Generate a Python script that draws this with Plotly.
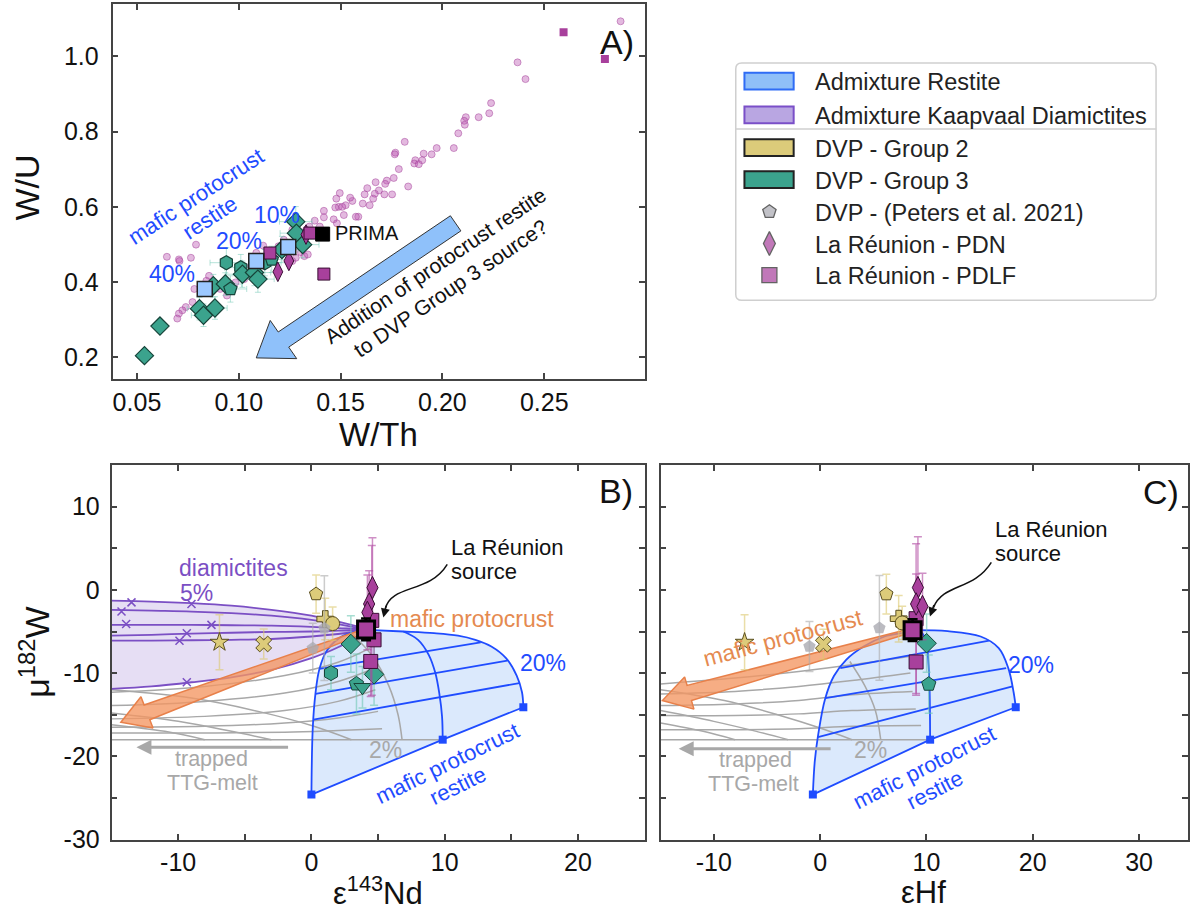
import numpy as np
import plotly.graph_objects as go

W, H = 1190, 919
FONT = "Liberation Sans, Arial, Helvetica, sans-serif"

# ======================= DATA =======================
# ---- Panel A : W/Th vs W/U ----
a_lit_x = [0.2875, 0.2369, 0.2408, 0.2239, 0.2230, 0.2178, 0.2115, 0.2107, 0.2110, 0.2078,
           0.2056, 0.1972, 0.1947, 0.1908, 0.1901, 0.1867, 0.1862, 0.1884, 0.1815, 0.1769,
           0.1766, 0.1786, 0.1832, 0.1761, 0.1727, 0.1719, 0.1753, 0.1715, 0.1688, 0.1668,
           0.1672, 0.1631, 0.1618, 0.1660, 0.1643, 0.1609, 0.1587, 0.1575, 0.1558, 0.1547,
           0.1525, 0.1496, 0.1479, 0.1491, 0.1508, 0.1516, 0.1474, 0.1418, 0.1418, 0.1466,
           0.1482, 0.1373, 0.1398, 0.1347, 0.1331, 0.1263, 0.1221, 0.1195, 0.1120, 0.1086,
           0.1111, 0.1204, 0.1322, 0.1305, 0.1339, 0.0790, 0.0765, 0.0706, 0.0709, 0.0647,
           0.0854, 0.0841, 0.0773, 0.0740, 0.0723, 0.0706, 0.0698, 0.0782, 0.0909, 0.0942,
           0.0984, 0.1027, 0.1060, 0.1128, 0.1263, 0.1280]
a_lit_y = [1.0935, 0.9843, 0.9397, 0.8759, 0.8488, 0.8384, 0.8384, 0.8287, 0.8183, 0.7955,
           0.7562, 0.7562, 0.7396, 0.7414, 0.7239, 0.7239, 0.7152, 0.7134, 0.7728, 0.7440,
           0.7396, 0.7003, 0.6540, 0.6767, 0.6697, 0.6610, 0.6330, 0.6330, 0.6435, 0.6348,
           0.6654, 0.6496, 0.6330, 0.6217, 0.6042, 0.6086, 0.5736, 0.5736, 0.6156, 0.6243,
           0.6042, 0.6365, 0.6217, 0.5998, 0.5998, 0.5780, 0.5981, 0.5893, 0.5719, 0.5666,
           0.5561, 0.5631, 0.5474, 0.5474, 0.5387, 0.5387, 0.5124, 0.4950, 0.4967, 0.4775,
           0.4600, 0.4775, 0.4688, 0.4792, 0.4731, 0.4993, 0.4644, 0.4600, 0.4557, 0.4670,
           0.4163, 0.4032, 0.3464, 0.3333, 0.3246, 0.3159, 0.3027, 0.3814, 0.3814, 0.3639,
           0.3989, 0.4076, 0.4426, 0.4600, 0.4557, 0.4644]

a_g3_x = [0.0537, 0.0613, 0.0807, 0.0827, 0.0883, 0.0939, 0.0875, 0.0934, 0.0959, 0.1010,
          0.1018, 0.1077, 0.1094, 0.1128, 0.1162, 0.1212, 0.1280, 0.1283, 0.1314]
a_g3_y = [0.2040, 0.2827, 0.3290, 0.3115, 0.3307, 0.4513, 0.3901, 0.3945, 0.3814, 0.4382,
          0.4207, 0.4251, 0.4076, 0.4513, 0.4600, 0.4862, 0.5605, 0.5299, 0.4993]
a_g3_sym = ["diamond", "diamond", "diamond", "diamond", "diamond", "hexagon", "diamond",
            "diamond", "pentagon", "hexagon", "diamond", "diamond", "diamond", "hexagon",
            "pentagon", "diamond", "diamond", "diamond", "diamond"]
a_g3_ex = [0.002, 0.002, 0.006, 0.006, 0.006, 0.008, 0.007, 0.008, 0.008, 0.008,
           0.008, 0.008, 0.008, 0.008, 0.008, 0.008, 0.008, 0.008, 0.008]
a_g3_ey = [0.005, 0.005, 0.03, 0.03, 0.03, 0.04, 0.03, 0.03, 0.035, 0.035,
           0.035, 0.035, 0.035, 0.035, 0.035, 0.035, 0.04, 0.035, 0.035]

a_pdn_x = [0.1246, 0.1192, 0.1330]
a_pdn_y = [0.4560, 0.4270, 0.5260]
a_pdlf_x = [0.1418, 0.1153, 0.1350]
a_pdlf_y = [0.4210, 0.4770, 0.5300]
a_pdlf_small_x = [0.2595, 0.2798]
a_pdlf_small_y = [1.0647, 0.9930]
a_restite_x = [0.0833, 0.1086, 0.1243]
a_restite_y = [0.3814, 0.4557, 0.4932]
a_prima_x = [0.1412]
a_prima_y = [0.5273]

# ---- Panel B : eps143Nd vs mu182W ----
b_src = (4.1, -4.75)
b_purple_x = [-15, -12, -9, -6, -3, 0, 2, 3.5, 4.2]
b_purple_y = [[-1.3, -1.4, -1.6, -1.9, -2.4, -3.1, -3.8, -4.4, -4.8],
              [-2.4, -2.5, -2.6, -2.8, -3.1, -3.6, -4.1, -4.55, -4.8],
              [-4.2, -4.2, -4.2, -4.25, -4.3, -4.45, -4.6, -4.7, -4.8],
              [-5.5, -5.4, -5.25, -5.15, -5.05, -5.0, -4.9, -4.85, -4.8],
              [-6.1, -6.1, -6.05, -6.0, -5.9, -5.6, -5.3, -5.0, -4.8],
              [-11.9, -11.6, -11.1, -10.5, -9.6, -8.2, -6.9, -5.5, -4.8]]
b_cross_x = [-14.25, -13.5, -13.9, -9.0, -7.5, -9.9, -9.35, -9.35]
b_cross_y = [-2.6, -1.5, -4.1, -1.7, -4.2, -6.1, -5.2, -11.1]

b_left_x = [4.2, 2.4, 1.2, 0.6, 0.3, 0.1, 0.0]
b_left_y = [-4.8, -5.5, -7.2, -9.5, -12.5, -16.6, -24.6]
b_top_x = [4.2, 6.9, 9.2, 11.0, 12.3, 13.5, 14.6, 15.4, 15.8, 15.9]
b_top_y = [-4.8, -5.0, -5.2, -5.5, -6.0, -6.8, -8.2, -10.3, -12.3, -14.1]
b_mid_x = [6.9, 8.0, 8.8, 9.3, 9.6, 9.8, 9.85]
b_mid_y = [-5.0, -6.0, -7.8, -10.0, -12.5, -15.2, -18.0]
b_corner_x = [0.0, 9.85, 15.9]
b_corner_y = [-24.6, -18.0, -14.1]
b_frac = [([0.6, 12.7], [-9.5, -6.3]), ([0.3, 14.7], [-12.5, -8.5]), ([0.15, 15.6], [-15.6, -11.2])]
b_gray = [([-15, -8, -2, 2, 4.4], [-12.3, -11.6, -10.3, -8.7, -7.0]),
          ([-15, -8, -2, 2, 4.6], [-13.9, -13.4, -12.4, -11.0, -9.5]),
          ([-15, -8, -2, 2, 4.8], [-15.5, -15.2, -14.5, -13.4, -12.0]),
          ([-15, -8, -2, 2, 5.0], [-16.5, -16.4, -16.0, -15.4, -14.6]),
          ([-15, -8, -2, 2, 5.3], [-17.2, -17.2, -17.1, -16.9, -16.7]),
          ([-15, 9.85], [-18.0, -18.0]),
          ([-15, -9, -4, 0, 3], [-12.0, -13.0, -14.6, -16.3, -18.0]),
          ([-15, -10, -6, -3], [-14.8, -15.8, -17.0, -18.0]),
          ([-15, -11, -8], [-16.2, -17.0, -18.0]),
          ([3.0, 4.6, 5.8, 6.5, 6.8], [-5.2, -8.0, -11.5, -15.0, -18.0])]

b_g2_x = [0.35, 1.04, 1.59, -6.9, -3.58]
b_g2_y = [-0.5, -3.5, -4.05, -6.3, -6.5]
b_g2_ey = [2.3, 2.5, 2.0, 3.3, 1.8]
b_g2_sym = ["pentagon", "cross", "circle", "star", "x"]
b_pet_x = [0.1, 0.97]
b_pet_y = [-7.0, -4.6]
b_pet_ey = [3.0, 6.3]
b_g3_x = [2.96, 1.47, 3.38, 4.7, 3.83]
b_g3_y = [-6.5, -10.0, -11.3, -10.15, -11.7]
b_g3_ey = [3.4, 2.0, 3.6, 3.7, 2.5]
b_g3_sym = ["diamond", "hexagon", "pentagon", "diamond", "triangle-down"]
b_pdn_x = [4.58, 4.33, 4.2]
b_pdn_y = [0.27, -1.69, -2.7]
b_pdn_ey = [6.0, 4.0, 4.5]
b_pdlf_x = [4.53, 4.7, 4.45]
b_pdlf_y = [-3.66, -6.0, -8.6]
b_pdlf_ey = [9.0, 3.0, 4.2]

# ---- Panel C : eHf vs mu182W ----
c_src = (8.7, -4.84)
c_left_x = [8.7, 8.05, 6.07, 4.09, 2.45, 1.3, 0.47, -0.18, -0.5, -0.68]
c_left_y = [-4.84, -5.1, -5.6, -6.8, -8.4, -10.35, -13.1, -17.4, -20.6, -24.6]
c_top_x = [8.7, 12.0, 15.1, 16.8, 17.7, 18.2, 18.4]
c_top_y = [-4.84, -4.96, -5.6, -7.0, -9.4, -12.3, -14.1]
c_mid_x = [8.7, 9.6, 10.0, 10.2, 10.3, 10.35]
c_mid_y = [-4.84, -5.2, -6.4, -9.0, -12.0, -18.0]
c_corner_x = [-0.68, 10.35, 18.4]
c_corner_y = [-24.6, -18.0, -14.1]
c_frac = [([1.9, 15.9], [-9.4, -6.1]), ([0.5, 17.5], [-13.0, -9.4]), ([-0.2, 18.1], [-17.7, -11.6])]
c_gray = [([-15, -8, -2, 3, 8.3], [-11.3, -10.6, -9.8, -9.0, -8.0]),
          ([-15, -8, -2, 3, 8.5], [-12.5, -12.2, -11.6, -10.9, -10.0]),
          ([-15, -8, -2, 3, 8.7], [-13.9, -13.7, -13.3, -12.6, -12.2]),
          ([-15, -8, -2, 3, 9.0], [-15.1, -15.1, -14.9, -14.5, -14.3]),
          ([-15, -8, -2, 3, 9.5], [-16.8, -16.8, -16.7, -16.4, -16.3]),
          ([-15, 10.35], [-18.0, -18.0]),
          ([-15, -9, -4, 0, 3], [-12.0, -13.3, -15.0, -16.6, -18.0]),
          ([-15, -10, -6, -3], [-14.5, -15.8, -17.0, -18.0]),
          ([-15, -11, -8], [-16.0, -17.0, -18.0]),
          ([2.8, 4.2, 5.2, 5.7], [-8.6, -11.5, -14.5, -18.0])]

c_g2_x = [6.23, 7.39, 7.72, -7.1, 0.31]
c_g2_y = [-0.51, -3.46, -3.97, -6.3, -6.53]
c_g2_ey = [2.4, 2.8, 2.0, 3.3, 1.8]
c_g2_sym = ["pentagon", "cross", "circle", "star", "x"]
c_pet_x = [5.58, -1.0]
c_pet_y = [-4.57, -6.8]
c_pet_ey = [6.3, 3.0]
c_g3_x = [10.02, 10.22]
c_g3_y = [-6.41, -11.33]
c_g3_ey = [3.5, 3.5]
c_g3_sym = ["diamond", "pentagon"]
c_pdn_x = [9.2, 9.03, 9.63]
c_pdn_y = [0.28, -1.69, -2.0]
c_pdn_ey = [6.1, 3.6, 4.0]
c_pdlf_x = [9.03, 9.03]
c_pdlf_y = [-3.46, -8.66]
c_pdlf_ey = [9.0, 4.0]

# arrows (tail -> tip) in data units
a_arrow = ((0.2065, 0.556), (0.1086, 0.198))
b_arrow = ((4.2, -4.8), (-14.3, -15.9))
c_arrow = ((8.7, -4.84), (-14.83, -13.3))

legend_labels = ["Admixture Restite", "Admixture Kaapvaal Diamictites", "DVP - Group 2",
                 "DVP - Group 3", "DVP - (Peters et al. 2021)", "La Réunion - PDN",
                 "La Réunion - PDLF"]

# ======================= STYLE / GEOMETRY =======================
A_L, A_R, A_T, A_B = 112.7, 645.7, 4.0, 385.0
B_L, B_R, P_T, P_B = 111.7, 645.7, 472.3, 852.5
C_L, C_R = 661.7, 1190.0
A_XR, A_YR = [0.038, 0.2993], [0.1415, 1.1397]
B_XR, Y_R = [-15, 25], [-30, 15]
C_XR = [-15, 34.6]

TEAL, TEAL_E = "#3ba38d", "#17443a"
YEL, YEL_E = "#dccb7a", "#5a4e1e"
MAG, MAG_E = "#a8409c", "#3a0e34"
GRAYPT = "#a9a9b1"
BLUE = "#1f4cff"
PURPLE = "#7b4fc4"
GRAYL = "#a8a8a8"
TICK_SIZE = 25
LBL = 23


def dx(l, r):
    return [l / W, r / W]


def dy(t, b):
    return [1 - b / H, 1 - t / H]


def join(lines):
    xs, ys = [], []
    for lx, ly in lines:
        xs += list(lx) + [None]
        ys += list(ly) + [None]
    return xs, ys


def block_arrow(tail, tip, sx, sy, w0, w1, wh, hl):
    p0 = np.array([tail[0] * sx, -tail[1] * sy])
    p1 = np.array([tip[0] * sx, -tip[1] * sy])
    d = p1 - p0
    u = d / np.linalg.norm(d)
    n = np.array([-u[1], u[0]])
    b = p1 - u * hl
    pts = [p0 + n * w0, b + n * w1, b + n * wh, p1, b - n * wh, b - n * w1, p0 - n * w0, p0 + n * w0]
    return [p[0] / sx for p in pts], [-p[1] / sy for p in pts]


sxA = (A_R - A_L) / (A_XR[1] - A_XR[0]); syA = (A_B - A_T) / (A_YR[1] - A_YR[0])
sxB = (B_R - B_L) / (B_XR[1] - B_XR[0]); syP = (P_B - P_T) / (Y_R[1] - Y_R[0])
sxC = (C_R - C_L) / (C_XR[1] - C_XR[0])

fig = go.Figure()

# ----------------- Panel A -----------------
fig.add_trace(go.Scatter(x=a_lit_x, y=a_lit_y, mode="markers", xaxis="x", yaxis="y",
                         marker=dict(size=7, color="rgba(188,88,178,0.42)",
                                     line=dict(color="rgba(160,60,150,0.6)", width=0.8))))
ax_, ay_ = block_arrow(a_arrow[0], a_arrow[1], sxA, syA, 9.3, 9.3, 23.5, 33)
fig.add_trace(go.Scatter(x=ax_, y=ay_, mode="lines", fill="toself", fillcolor="#8fc1fa",
                         line=dict(color="#333333", width=1), xaxis="x", yaxis="y"))
fig.add_trace(go.Scatter(x=a_g3_x, y=a_g3_y, mode="markers", xaxis="x", yaxis="y",
                         error_x=dict(type="data", array=a_g3_ex, color="rgba(110,200,180,0.5)", thickness=1, width=3),
                         error_y=dict(type="data", array=a_g3_ey, color="rgba(110,200,180,0.5)", thickness=1, width=3),
                         marker=dict(symbol=a_g3_sym, size=14, color=TEAL, line=dict(color=TEAL_E, width=1.2))))
fig.add_trace(go.Scatter(x=a_pdn_x, y=a_pdn_y, mode="markers", xaxis="x", yaxis="y",
                         marker=dict(symbol="diamond-tall", size=14, color=MAG, line=dict(color=MAG_E, width=1))))
fig.add_trace(go.Scatter(x=a_pdlf_x, y=a_pdlf_y, mode="markers", xaxis="x", yaxis="y",
                         marker=dict(symbol="square", size=12, color=MAG, line=dict(color=MAG_E, width=1))))
fig.add_trace(go.Scatter(x=a_pdlf_small_x, y=a_pdlf_small_y, mode="markers", xaxis="x", yaxis="y",
                         marker=dict(symbol="square", size=8, color=MAG, line=dict(width=0))))
fig.add_trace(go.Scatter(x=a_restite_x, y=a_restite_y, mode="markers", xaxis="x", yaxis="y",
                         marker=dict(symbol="square", size=15, color="#9cc8ff", line=dict(color="#222", width=1.5))))
fig.add_trace(go.Scatter(x=a_prima_x, y=a_prima_y, mode="markers", xaxis="x", yaxis="y",
                         marker=dict(symbol="square", size=14, color="black", line=dict(color="black", width=1))))


# ----------------- Panels B & C -----------------
def panel(xa, ya, sx, left, top, mid, corner, frac, gray, arrow, pts, src, purple=True):
    lx, ly = left
    tx, ty = top
    cx, cy = corner
    if purple:
        px = b_purple_x + b_purple_x[::-1]
        py = b_purple_y[0] + b_purple_y[-1][::-1]
        fig.add_trace(go.Scatter(x=px, y=py, mode="lines", fill="toself", fillcolor="rgba(196,176,228,0.42)",
                                 line=dict(width=0), xaxis=xa, yaxis=ya))
    poly_x = list(lx) + list(cx[1:]) + list(tx[::-1])
    poly_y = list(ly) + list(cy[1:]) + list(ty[::-1])
    fig.add_trace(go.Scatter(x=poly_x, y=poly_y, mode="lines", fill="toself", fillcolor="rgba(184,212,250,0.5)",
                             line=dict(width=0), xaxis=xa, yaxis=ya))
    gx, gy = join(gray)
    fig.add_trace(go.Scatter(x=gx, y=gy, mode="lines", line=dict(color=GRAYL, width=1.5, shape="spline"),
                             xaxis=xa, yaxis=ya))
    if purple:
        pl = [(b_purple_x, yy) for yy in b_purple_y]
        qx, qy = join(pl)
        fig.add_trace(go.Scatter(x=qx, y=qy, mode="lines", line=dict(color=PURPLE, width=1.8, shape="spline"),
                                 xaxis=xa, yaxis=ya))
        fig.add_trace(go.Scatter(x=b_cross_x, y=b_cross_y, mode="markers", xaxis=xa, yaxis=ya,
                                 marker=dict(symbol="x-thin", size=8, line=dict(color=PURPLE, width=1.5))))
    bl = [left, top, mid] + frac
    bx, by = join(bl)
    fig.add_trace(go.Scatter(x=bx, y=by, mode="lines", line=dict(color=BLUE, width=1.8, shape="spline"),
                             xaxis=xa, yaxis=ya))
    fig.add_trace(go.Scatter(x=list(cx), y=list(cy), mode="lines+markers", xaxis=xa, yaxis=ya,
                             line=dict(color=BLUE, width=1.8),
                             marker=dict(symbol="square", size=8, color=BLUE)))
    ox, oy = block_arrow(arrow[0], arrow[1], sx, syP, 2, 8, 17, 28)
    fig.add_trace(go.Scatter(x=ox, y=oy, mode="lines", fill="toself", fillcolor="rgba(243,150,98,0.78)",
                             line=dict(color="#e8804a", width=1.5), xaxis=xa, yaxis=ya))
    (g2x, g2y, g2e, g2s), (ptx, pty, pte), (g3x, g3y, g3e, g3s), (dnx, dny, dne), (dfx, dfy, dfe) = pts
    specs = [
        (g2x, g2y, g2e, dict(symbol=g2s, size=14, color=YEL, line=dict(color=YEL_E, width=1)), "rgba(220,200,110,0.6)"),
        (ptx, pty, pte, dict(symbol="pentagon", size=13, color="rgba(170,170,178,0.8)", line=dict(width=0)), "rgba(170,170,170,0.6)"),
        (g3x, g3y, g3e, dict(symbol=g3s, size=15, color=TEAL, line=dict(color=TEAL_E, width=1)), "rgba(110,200,180,0.6)"),
        (dfx, dfy, dfe, dict(symbol="square", size=14, color=MAG, line=dict(color=MAG_E, width=1)), "rgba(175,70,160,0.6)"),
        (dnx, dny, dne, dict(symbol="diamond-tall", size=16, color=MAG, line=dict(color=MAG_E, width=1)), "rgba(175,70,160,0.6)"),
    ]
    for x, y, e, m, ec in specs:
        fig.add_trace(go.Scatter(x=x, y=y, mode="markers", xaxis=xa, yaxis=ya, marker=m,
                                 error_y=dict(type="data", array=e, color=ec, thickness=1.5, width=4)))
    fig.add_trace(go.Scatter(x=[src[0]], y=[src[1]], mode="markers", xaxis=xa, yaxis=ya,
                             error_y=dict(type="data", array=[1.3], color="black", thickness=2.5, width=5),
                             marker=dict(symbol="square", size=17, color=MAG, line=dict(color="black", width=3))))


panel("x2", "y2", sxB, (b_left_x, b_left_y), (b_top_x, b_top_y), (b_mid_x, b_mid_y),
      (b_corner_x, b_corner_y), b_frac, b_gray, b_arrow,
      [(b_g2_x, b_g2_y, b_g2_ey, b_g2_sym), (b_pet_x, b_pet_y, b_pet_ey),
       (b_g3_x, b_g3_y, b_g3_ey, b_g3_sym), (b_pdn_x, b_pdn_y, b_pdn_ey),
       (b_pdlf_x, b_pdlf_y, b_pdlf_ey)], b_src, purple=True)
panel("x3", "y3", sxC, (c_left_x, c_left_y), (c_top_x, c_top_y), (c_mid_x, c_mid_y),
      (c_corner_x, c_corner_y), c_frac, c_gray, c_arrow,
      [(c_g2_x, c_g2_y, c_g2_ey, c_g2_sym), (c_pet_x, c_pet_y, c_pet_ey),
       (c_g3_x, c_g3_y, c_g3_ey, c_g3_sym), (c_pdn_x, c_pdn_y, c_pdn_ey),
       (c_pdlf_x, c_pdlf_y, c_pdlf_ey)], c_src, purple=False)

# ----------------- Legend (manual) -----------------
LG_L, LG_R, LG_T, LG_B = 737, 1158, 64, 305
rows = [82.3, 116.7, 150.0, 182.3, 215.0, 247.3, 279.3]
patch_style = [("#8fbff8", "#2f6cf5"), ("#b9a6e2", "#7a4fc8"), (YEL, "#222222"), (TEAL, "#222222")]
mk_sym = ["pentagon", "diamond-tall", "square"]
mk_col = [GRAYPT, MAG, MAG]
fig.add_trace(go.Scatter(x=[770.7] * 3, y=rows[4:], mode="markers", xaxis="x4", yaxis="y4",
                         marker=dict(symbol=mk_sym, size=[14, 17, 15], color=mk_col,
                                     line=dict(color="#222", width=1.3))))

shapes = []
r = 6
path = (f"M {(LG_L + r)/W},{1-LG_T/H} L {(LG_R - r)/W},{1-LG_T/H} Q {LG_R/W},{1-LG_T/H} {LG_R/W},{1-(LG_T + r)/H} "
        f"L {LG_R/W},{1-(LG_B - r)/H} Q {LG_R/W},{1-LG_B/H} {(LG_R - r)/W},{1-LG_B/H} "
        f"L {(LG_L + r)/W},{1-LG_B/H} Q {LG_L/W},{1-LG_B/H} {LG_L/W},{1-(LG_B - r)/H} "
        f"L {LG_L/W},{1-(LG_T + r)/H} Q {LG_L/W},{1-LG_T/H} {(LG_L + r)/W},{1-LG_T/H} Z")
shapes.append(dict(type="path", path=path, xref="paper", yref="paper", line=dict(color="#cfcfcf", width=1.5),
                   fillcolor="white", layer="below"))
shapes.append(dict(type="line", xref="paper", yref="paper", x0=LG_L / W, x1=LG_R / W, y0=1 - 131 / H, y1=1 - 131 / H,
                   line=dict(color="#cfcfcf", width=1.5)))
for i, (fc, lc) in enumerate(patch_style):
    shapes.append(dict(type="rect", xref="paper", yref="paper", x0=745.7 / W, x1=795 / W,
                       y0=1 - (rows[i] + 8.5) / H, y1=1 - (rows[i] - 8.5) / H,
                       fillcolor=fc, line=dict(color=lc, width=2)))

annotations = []


def ann(px, py, text, size, color, angle=0, xanchor="center", yanchor="middle"):
    annotations.append(dict(x=px / W, y=1 - py / H, xref="paper", yref="paper", text=text, showarrow=False,
                            font=dict(family=FONT, size=size, color=color), textangle=angle,
                            xanchor=xanchor, yanchor=yanchor))


for i, t in enumerate(legend_labels):
    ann(814, rows[i] + 1, t, 23.5, "#222222", xanchor="left")

# axis titles
ann(27.5, 190, "W/U", 34, "#111", angle=-90)
ann(379, 441, "W/Th", 33, "#111")
ann(35, 662, "μ<sup>182</sup>W", 34, "#111", angle=-90)
ann(379, 905, "ε<sup>143</sup>Nd", 31, "#111")
ann(925, 906, "εHf", 31, "#111")

# panel letters
ann(618, 42.5, "A)", 34, "#111")
ann(617.5, 499, "B)", 34, "#111")
ann(1162.8, 500, "C)", 34, "#111")

# panel A labels
ann(196.4, 200, "mafic protocrust", 22, BLUE, angle=-33)
ann(210.5, 221, "restite", 22, BLUE, angle=-33)
ann(277.3, 218.3, "10%", LBL, BLUE)
ann(239.5, 245, "20%", LBL, BLUE)
ann(172.3, 278.3, "40%", LBL, BLUE)
ann(334, 236.7, "PRIMA", 20, "#111", xanchor="left")
ann(443, 281, "Addition of protocrust restite<br>to DVP Group 3 source?", 21, "#111", angle=-34)

# panel B labels
ann(234, 576.7, "diamictites", LBL, PURPLE)
ann(196.7, 601.7, "5%", LBL, PURPLE)
ann(450, 556.2, "La Réunion", 22, "#111", xanchor="left")
ann(450, 580.2, "source", 22, "#111", xanchor="left")
ann(473, 628.3, "mafic protocrust", LBL, "#e58a50")
ann(543.6, 673.3, "20%", LBL, BLUE)
ann(385.9, 761.7, "2%", LBL, GRAYL)
ann(211.7, 770.3, "trapped", 21.5, GRAYL)
ann(213.3, 794.7, "TTG-melt", 21.5, GRAYL)
ann(448, 775, "mafic protocrust", 22, BLUE, angle=-26)
ann(459, 798, "restite", 22, BLUE, angle=-26)

# panel C labels
ann(994.4, 537.8, "La Réunion", 22, "#111", xanchor="left")
ann(994.4, 561.7, "source", 22, "#111", xanchor="left")
ann(783.9, 648.3, "mafic protocrust", LBL, "#e58a50", angle=-15)
ann(1033, 675, "20%", LBL, BLUE)
ann(871.6, 761.7, "2%", LBL, GRAYL)
ann(756.7, 771.8, "trapped", 21.5, GRAYL)
ann(755, 796.2, "TTG-melt", 21.5, GRAYL)
ann(926, 779.3, "mafic protocrust", 22, BLUE, angle=-27)
ann(937, 802, "restite", 22, BLUE, angle=-27)

# gray "trapped TTG-melt" arrows
for xr, yr, tip, tail in [("x2", "y2", (-13.13, -18.9), (-1.64, -18.9)), ("x3", "y3", (-13.3, -19.1), (1.13, -19.1))]:
    annotations.append(dict(x=tip[0], y=tip[1], ax=tail[0], ay=tail[1], xref=xr, yref=yr, axref=xr, ayref=yr,
                            showarrow=True, arrowhead=2, arrowsize=1.0, arrowwidth=3, arrowcolor=GRAYL, text=""))

# curvy "La Réunion source" pointers (pixel coordinates -> paper)
for p0, c1, c2, p3, tip in [((448, 573), (430, 603), (392, 593), (386, 618), (384, 627)),
                            ((993, 571), (975, 600), (945, 592), (935, 617), (931.5, 626))]:
    f = lambda p: f"{p[0]/W},{1-p[1]/H}"
    shapes.append(dict(type="path", xref="paper", yref="paper",
                       path=f"M {f(p0)} C {f(c1)} {f(c2)} {f(p3)}", line=dict(color="#111", width=1.5)))
    annotations.append(dict(x=tip[0] / W, y=1 - tip[1] / H, xref="paper", yref="paper",
                            ax=p3[0] - tip[0] + 1, ay=p3[1] - tip[1] - 4, showarrow=True, arrowhead=2,
                            arrowsize=1.2, arrowwidth=1.5, arrowcolor="#111", text=""))

axstyle = dict(showline=True, linecolor="#444", linewidth=1.6, mirror="ticks", ticks="inside", ticklen=6,
               tickwidth=1.5, tickcolor="#444", showgrid=False, zeroline=False,
               tickfont=dict(family=FONT, size=TICK_SIZE, color="#111"))

yv = [-30, -25, -20, -15, -10, -5, 0, 5, 10]
yt = ["-30", "", "-20", "", "-10", "", "0", "", "10"]

fig.update_layout(
    width=W, height=H, margin=dict(l=0, r=0, t=0, b=0), paper_bgcolor="white",
    plot_bgcolor="rgba(0,0,0,0)", showlegend=False, font=dict(family=FONT),
    xaxis=dict(domain=dx(A_L, A_R), range=A_XR, anchor="y", tickvals=[0.05, 0.10, 0.15, 0.20, 0.25],
               ticktext=["0.05", "0.10", "0.15", "0.20", "0.25"], ticklabelstandoff=0, **axstyle),
    yaxis=dict(domain=dy(A_T, A_B), range=A_YR, anchor="x", tickvals=[0.2, 0.4, 0.6, 0.8, 1.0],
               ticktext=["0.2", "0.4", "0.6", "0.8", "1.0"], ticklabelstandoff=7, **axstyle),
    xaxis2=dict(domain=dx(B_L, B_R), range=B_XR, anchor="y2", tickvals=[-10, -5, 0, 5, 10, 15, 20],
                ticktext=["-10", "", "0", "", "10", "", "20"], ticklabelstandoff=0, **axstyle),
    yaxis2=dict(domain=dy(P_T, P_B), range=Y_R, anchor="x2", tickvals=yv, ticktext=yt,
                ticklabelstandoff=5, **axstyle),
    xaxis3=dict(domain=dx(C_L, C_R), range=C_XR, anchor="y3", tickvals=[-10, 0, 10, 20, 30],
                ticktext=["-10", "0", "10", "20", "30"], ticklabelstandoff=0, **axstyle),
    yaxis3=dict(domain=dy(P_T, P_B), range=Y_R, anchor="x3", tickvals=yv, showticklabels=False, **axstyle),
    xaxis4=dict(domain=[0, 1], range=[0, W], anchor="y4", visible=False, fixedrange=True),
    yaxis4=dict(domain=[0, 1], range=[H, 0], anchor="x4", visible=False, fixedrange=True),
    shapes=shapes, annotations=annotations,
)

fig.write_html("out.html")
